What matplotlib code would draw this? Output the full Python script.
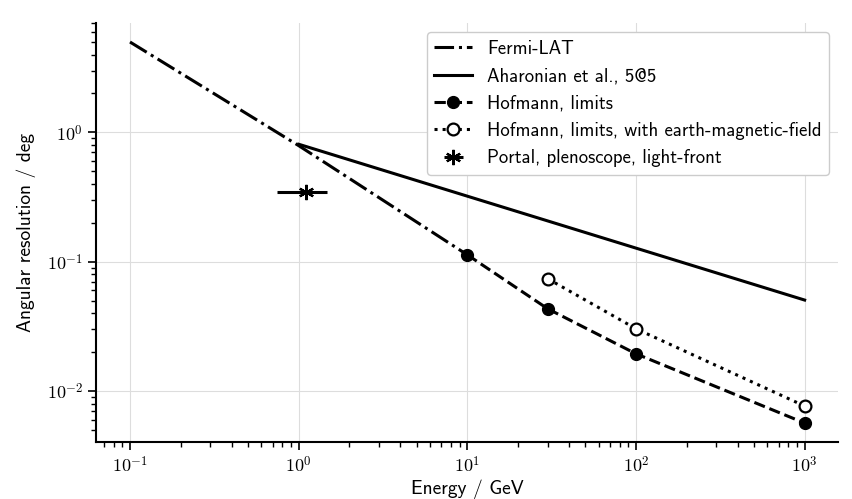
import numpy as np
import matplotlib
matplotlib.use("Agg")
from matplotlib import pyplot as plt
from matplotlib.ticker import FuncFormatter

plt.rcParams["font.family"] = ["cmss10", "DejaVu Sans"]
plt.rcParams["mathtext.fontset"] = "cm"

### data ###
fermi_energy = [0.1, 1.0, 10.0]
fermi_res = [5.0, 0.79, 0.113]

aharonian_energy = [1.0, 1000.0]
aharonian_res = [0.81, 0.0505]

hofmann_energy = [10.0, 30.0, 100.0, 1000.0]
hofmann_res = [0.113, 0.0432, 0.0194, 0.00565]

hofmann_mag_energy = [30.0, 100.0, 1000.0]
hofmann_mag_res = [0.0738, 0.0303, 0.00765]

portal_energy = [1.10]
portal_res = [0.343]
portal_energy_lo = [0.74]
portal_energy_hi = [1.47]


def pow10_label(v, pos):
    e = int(round(np.log10(v)))
    return r"$10^{%d}$" % e


fig = plt.figure(figsize=(8.52, 4.99), dpi=100)
ax = fig.add_axes([0.113, 0.114, 0.871, 0.840])

ax.plot(fermi_energy, fermi_res, color="k", linestyle="-.", linewidth=2.2,
        label="Fermi-LAT")
ax.plot(aharonian_energy, aharonian_res, color="k", linestyle="-", linewidth=2.2,
        label="Aharonian et al., 5@5")
ax.plot(hofmann_energy, hofmann_res, color="k", linestyle="--", linewidth=2.2,
        marker="o", markersize=8.5, markerfacecolor="k",
        label="Hofmann, limits")
ax.plot(hofmann_mag_energy, hofmann_mag_res, color="k", linestyle=":", linewidth=2.2,
        marker="o", markersize=8.5, markerfacecolor="white", markeredgewidth=1.6,
        label="Hofmann, limits, with earth-magnetic-field")

xerr = [[portal_energy[0] - portal_energy_lo[0]],
        [portal_energy_hi[0] - portal_energy[0]]]
ax.errorbar(portal_energy, portal_res, xerr=xerr, color="k", linestyle="none",
            marker=(6, 2, 0), markersize=11, markeredgewidth=1.6,
            elinewidth=2.2, capsize=0,
            label="Portal, plenoscope, light-front")

ax.set_xscale("log")
ax.set_yscale("log")
ax.xaxis.set_major_formatter(FuncFormatter(pow10_label))
ax.yaxis.set_major_formatter(FuncFormatter(pow10_label))
ax.set_xlabel("Energy / GeV", fontsize=14, labelpad=3)
ax.set_ylabel("Angular resolution / deg", fontsize=14, labelpad=8)
ax.tick_params(axis="both", which="major", labelsize=13, length=6, width=1.2)
ax.tick_params(axis="both", which="minor", length=3.5, width=1.0)
ax.grid(True, which="major", color="#dddddd", linewidth=0.8)
ax.set_axisbelow(True)
for side in ["top", "right"]:
    ax.spines[side].set_visible(False)
for side in ["left", "bottom"]:
    ax.spines[side].set_linewidth(1.5)

ax.legend(loc="upper right", fontsize=13.5, framealpha=1.0, edgecolor="#cccccc",
          labelspacing=0.5)

fig.savefig("out.png", dpi=100)
